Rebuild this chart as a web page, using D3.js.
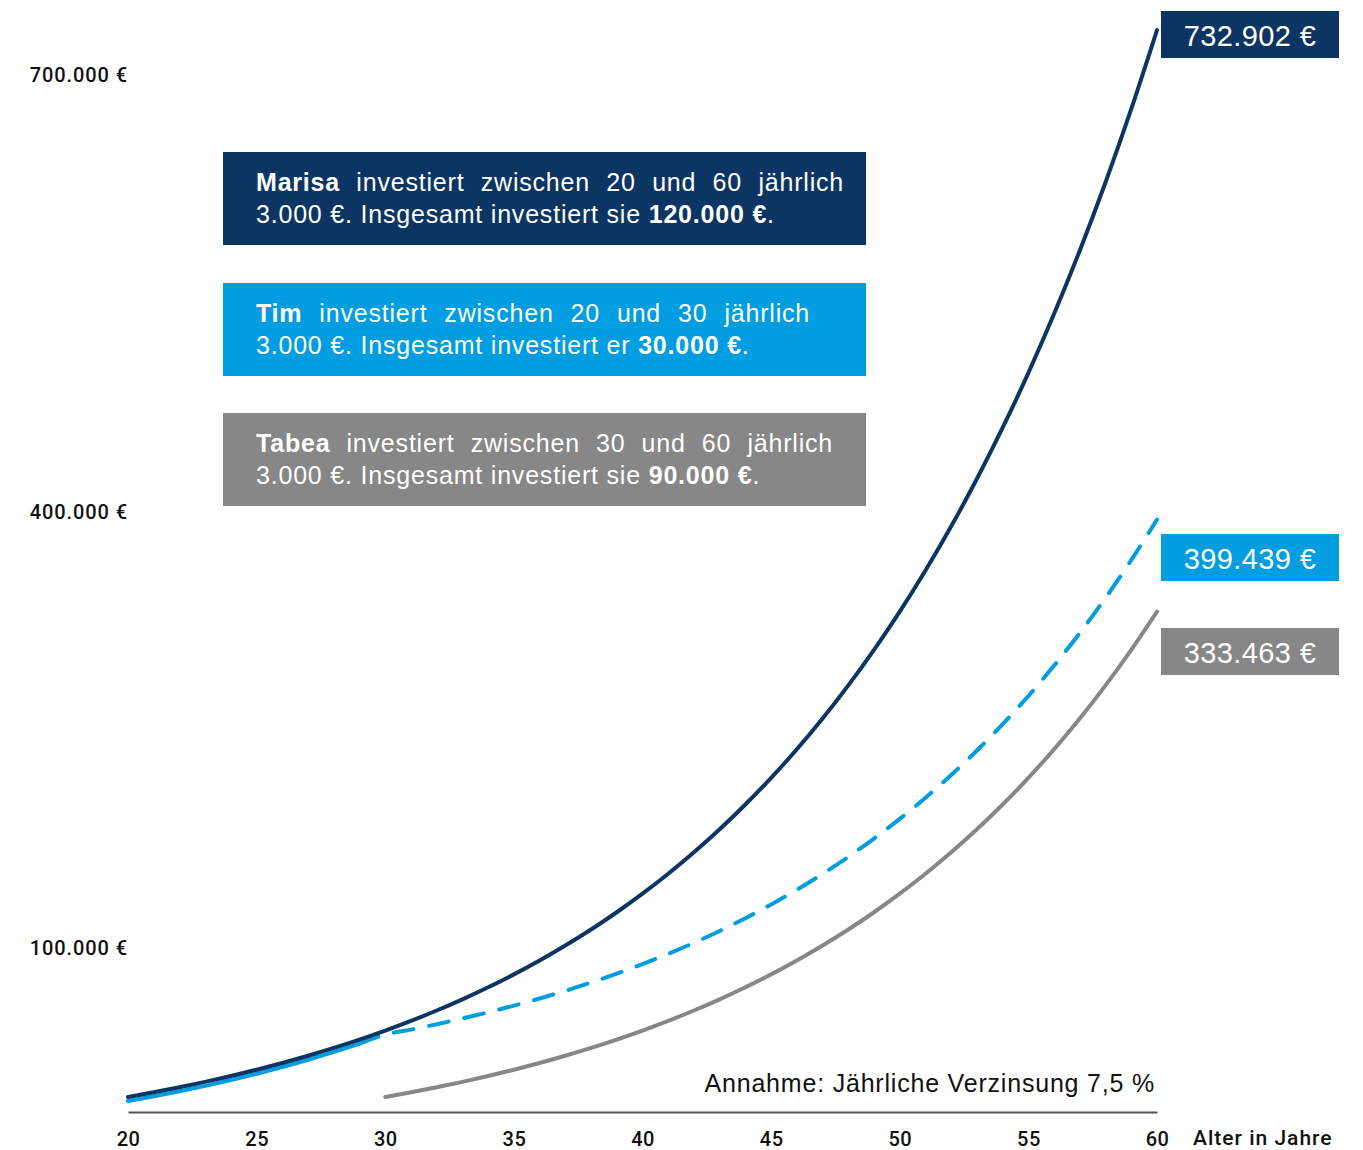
<!DOCTYPE html>
<html>
<head>
<meta charset="utf-8">
<script src="https://cdn.jsdelivr.net/npm/d3@7"></script>
<style>
  body { margin: 0; background: #fff; }
  svg { display: block; }
</style>
</head>
<body>
<div id="chart"></div>
<script>
// ages on the x axis
const ages = [20,21,22,23,24,25,26,27,28,29,30,31,32,33,34,35,36,37,38,39,40,
              41,42,43,44,45,46,47,48,49,50,51,52,53,54,55,56,57,58,59,60];
const tabeaAges = ages.slice(10);

// portfolio value (€) per age
const marisa = [0,3225,6692,10419,14425,18732,23362,28339,33690,39441,45624,
  52271,59417,67098,75355,84232,93774,104032,115060,126914,139658,
  153357,168084,183915,200934,219229,238896,260038,282766,307198,333463,
  361698,392050,424679,459755,497461,537996,581571,628414,678770,732902];
const tim = [0,3225,6692,10419,14425,18732,23362,28339,33690,39441,45624,
  49046,52724,56678,60929,65499,70411,75692,81369,87472,94033,
  101085,108667,116816,125578,134996,145121,156005,167705,180283,193805,
  208340,223965,240763,258820,278232,299099,321530,345645,371571,399439];
const tabea = [0,3225,6692,10419,14425,18732,23362,28339,33690,39441,45624,
  52271,59417,67098,75355,84232,93774,104032,115060,126914,139658,
  153357,168084,183915,200934,219229,238896,260038,282766,307198,333463];

const yTicks = [100000, 400000, 700000];
const xTicks = [20,25,30,35,40,45,50,55,60];

const names = ["Marisa", "Tim", "Tabea"];
const spans = ["20 und 60", "20 und 30", "30 und 60"];
const pronouns = ["sie", "er", "sie"];
const totals = ["120.000 €", "30.000 €", "90.000 €"];
const endLabels = ["732.902 €", "399.439 €", "333.463 €"];
const colors = ["#0c3564", "#009ee0", "#878787"];

const width = 1363, height = 1150;
const fmt = v => d3.format(",")(v).replace(/,/g, ".") + " €";

const svg = d3.select("#chart").append("svg")
    .attr("width", width).attr("height", height);

const x = d3.scaleLinear().domain([20, 60]).range([128, 1157]);
const y = d3.scaleLinear().domain([0, 700000]).range([1097, 78]);

// y labels (no axis line)
svg.append("g")
  .selectAll("text")
  .data(yTicks)
  .join("text")
    .attr("x", 128)
    .attr("y", d => y(d) - 3)
    .attr("dy", "0.35em")
    .attr("text-anchor", "end")
    .attr("font-family", "Roboto")
    .attr("font-weight", 500)
    .attr("font-size", 20)
    .attr("letter-spacing", 0.9)
    .attr("fill", "#111")
    .text(d => fmt(d));

// x axis
const xAxis = svg.append("g")
    .attr("transform", "translate(0,1112)")
    .call(d3.axisBottom(x).tickValues(xTicks).tickSize(0).tickSizeOuter(0).tickPadding(20).tickFormat(d3.format("d")));
xAxis.select(".domain").attr("stroke", "#555").attr("stroke-width", 2);
xAxis.selectAll(".tick text")
    .attr("font-family", "Roboto")
    .attr("font-weight", 500)
    .attr("font-size", 20)
    .attr("letter-spacing", 0.5)
    .attr("fill", "#111");

svg.append("text")
    .attr("x", 1193).attr("y", 1145)
    .attr("font-family", "Roboto")
    .attr("font-weight", 500)
    .attr("font-size", 21)
    .attr("letter-spacing", 1)
    .attr("fill", "#111")
    .text("Alter in Jahre");

svg.append("text")
    .attr("x", 1155).attr("y", 1092)
    .attr("text-anchor", "end")
    .attr("font-family", "Liberation Sans")
    .attr("font-size", 25)
    .attr("letter-spacing", 0.8)
    .attr("fill", "#111")
    .text("Annahme: Jährliche Verzinsung 7,5 %");

// lines
const line = d3.line().x(d => x(d[0])).y(d => y(d[1])).curve(d3.curveMonotoneX);
const lines = svg.append("g").attr("fill", "none").attr("stroke-width", 4).attr("stroke-linecap", "round");

lines.append("path")
    .attr("d", line(tabeaAges.map((a, i) => [a, tabea[i]])))
    .attr("stroke", colors[2]);

const timPts = ages.map((a, i) => [a, tim[i]]);
const timG = lines.append("g").attr("transform", "translate(0,4)");
timG.append("path")
    .attr("d", line(timPts.filter(d => d[0] <= 29)))
    .attr("stroke", colors[1]);
timG.append("path")
    .attr("d", line(timPts.filter(d => d[0] >= 29)))
    .attr("stroke", colors[1])
    .attr("stroke-dasharray", "20 16");

lines.append("path")
    .attr("d", line(ages.map((a, i) => [a, marisa[i]])))
    .attr("stroke", colors[0]);

// end value boxes
const endVals = [marisa[marisa.length - 1], tim[tim.length - 1], tabea[tabea.length - 1]];
const boxTops = [11, 534, 628];
endVals.forEach((v, i) => {
  svg.append("rect")
      .attr("x", 1161).attr("y", boxTops[i])
      .attr("width", 178).attr("height", 47)
      .attr("fill", colors[i]);
  svg.append("text")
      .attr("x", 1250).attr("y", boxTops[i] + 35)
      .attr("text-anchor", "middle")
      .attr("font-family", "Liberation Sans")
      .attr("font-size", 29)
      .attr("letter-spacing", 0.4)
      .attr("fill", "#fff")
      .text(endLabels[i]);
});

// info boxes
const infoTops = [152, 283, 413];
const lineEnds = [844, 810, 833];
names.forEach((n, i) => {
  const top = infoTops[i];
  svg.append("rect")
      .attr("x", 223).attr("y", top)
      .attr("width", 643).attr("height", 93)
      .attr("fill", colors[i]);

  const g = svg.append("g")
      .attr("font-family", "Liberation Sans")
      .attr("font-size", 25)
      .attr("letter-spacing", 0.8)
      .attr("fill", "#fff");

  // justified first line
  const words = [n, "investiert", "zwischen"].concat(spans[i].split(" ")).concat(["jährlich"]);
  const texts = words.map((w, k) => g.append("text")
      .attr("y", top + 39)
      .attr("font-weight", k === 0 ? "bold" : null)
      .text(w));
  const widths = texts.map(t => t.node().getComputedTextLength());
  const gap = (lineEnds[i] - 256 - d3.sum(widths)) / (words.length - 1);
  let cx = 256;
  texts.forEach((t, k) => { t.attr("x", cx); cx += widths[k] + gap; });

  const l2 = g.append("text").attr("x", 256).attr("y", top + 71);
  l2.append("tspan").text("3.000 €. Insgesamt investiert " + pronouns[i] + " ");
  l2.append("tspan").attr("font-weight", "bold").text(totals[i]);
  l2.append("tspan").text(".");
});
</script>
</body>
</html>
